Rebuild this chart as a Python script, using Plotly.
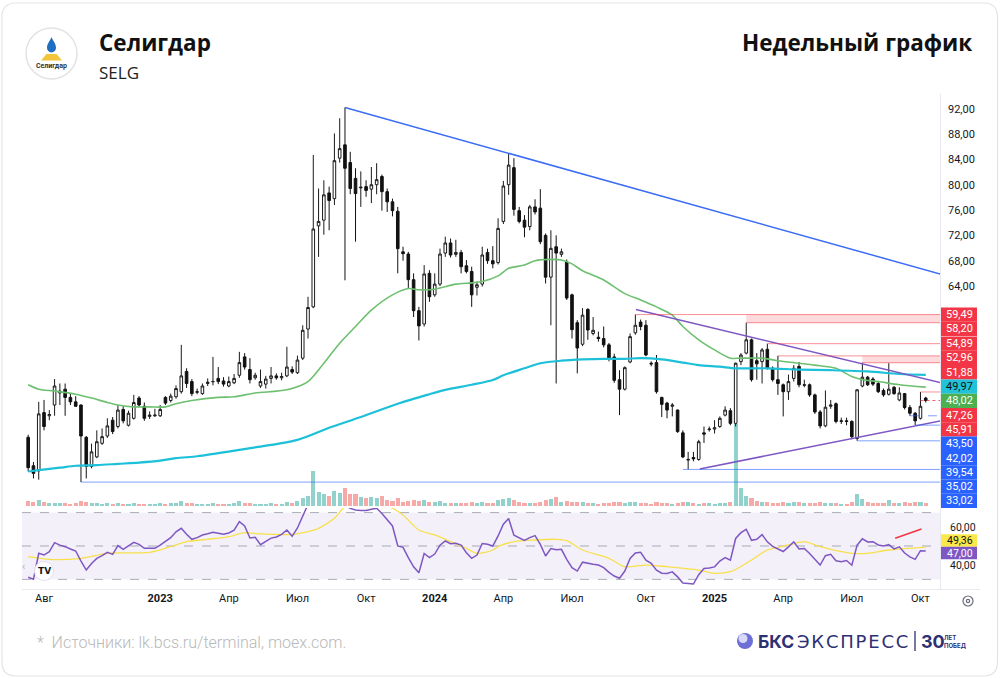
import pandas as pd
import plotly.graph_objects as go

W, H = 1000, 678

# ---------------- data (weekly bars, SELG) ----------------
ticker = "SELG"
company = "Селигдар"
start_week = "2022-07-11"

open_ = [
    40.1, 35.6, 34.8, 44.0, 43.5, 45.2, 47.1, 47.7, 46.4, 45.7,
    45.2, 40.1, 35.5, 37.0, 39.15, 40.3, 42.8, 41.8, 44.5, 42.0,
    43.1, 46.3, 45.0, 43.4, 43.5, 43.5, 46.4, 45.9, 46.5, 47.3,
    50.5, 48.9, 47.2, 47.0, 48.6, 48.9, 49.4, 49.0, 48.2, 48.7,
    49.9, 52.8, 50.8, 49.5, 48.2, 48.5, 49.4, 49.8, 49.5, 49.8,
    50.8, 50.3, 52.6, 57.2, 60.7, 73.5, 74.4, 78.7, 77.8, 84.2,
    86.3, 83.5, 81.0, 79.5, 79.7, 79.3, 80.0, 81.3, 78.9, 77.3,
    75.8, 69.4, 69.05, 65.0, 60.1, 58.0, 66.0, 62.6, 64.3, 69.2,
    70.8, 69.0, 69.3, 67.2, 66.3, 63.8, 64.3, 69.3, 68.0, 67.7,
    74.2, 80.0, 82.7, 75.9, 74.4, 73.4, 76.5, 76.3, 72.0, 65.4,
    70.2, 69.0, 67.8, 62.6, 58.2, 54.8, 60.3, 56.5, 55.9, 55.7,
    54.7, 52.8, 49.2, 47.7, 52.0, 56.6, 58.3, 57.8, 51.8, 51.9,
    46.4, 45.5, 45.0, 44.4, 40.8, 36.5, 36.9, 36.6, 40.8, 41.3,
    41.4, 41.8, 43.6, 44.3, 42.3, 52.05, 53.4, 55.5, 52.2, 52.05,
    54.0, 51.0, 49.2, 48.4, 47.3, 49.4, 51.3, 48.3, 48.4, 46.8,
    44.1, 41.9, 45.0, 45.4, 42.6, 42.7, 42.6, 39.9, 48.2, 49.6,
    49.3, 48.6, 47.5, 46.9, 48.0, 46.0, 47.0, 44.8, 43.9, 43.1,
    46.3,
]
high_ = [
    40.5, 36.2, 45.7, 46.0, 44.4, 49.3, 48.6, 48.6, 47.1, 46.6,
    45.3, 40.3, 39.1, 41.2, 41.5, 43.1, 43.3, 45.2, 45.0, 44.3,
    46.8, 46.6, 45.6, 44.2, 44.6, 45.2, 46.6, 47.0, 48.3, 54.7,
    51.0, 49.3, 47.8, 48.6, 49.4, 52.8, 51.2, 49.6, 49.7, 50.1,
    53.6, 53.4, 52.6, 50.3, 50.8, 49.8, 51.2, 50.2, 50.3, 54.4,
    51.3, 53.0, 57.8, 62.3, 84.7, 79.4, 80.7, 79.7, 88.1, 90.5,
    92.2, 85.2, 82.6, 82.1, 80.7, 82.8, 83.4, 81.6, 79.4, 77.8,
    76.5, 70.2, 69.4, 66.0, 60.7, 67.3, 66.5, 66.0, 69.9, 71.8,
    71.5, 71.3, 69.7, 68.1, 67.05, 64.7, 70.2, 69.9, 70.3, 74.7,
    80.6, 85.0, 84.2, 76.5, 75.2, 76.8, 77.7, 79.3, 72.3, 72.8,
    72.0, 69.9, 68.2, 62.8, 58.6, 60.5, 60.5, 59.1, 56.8, 57.6,
    55.0, 53.3, 50.7, 51.3, 56.5, 59.49, 58.7, 58.6, 52.1, 53.1,
    46.5, 45.7, 45.5, 44.5, 41.2, 37.8, 37.8, 39.7, 41.8, 41.8,
    42.8, 43.4, 45.0, 44.7, 51.9, 53.4, 58.2, 55.7, 53.4, 54.2,
    54.89, 51.3, 52.96, 48.6, 50.0, 51.5, 52.0, 49.2, 48.6, 47.0,
    44.4, 47.5, 46.0, 45.6, 43.2, 43.2, 42.8, 47.7, 51.88, 49.8,
    49.6, 48.9, 47.8, 51.8, 48.2, 48.0, 47.1, 45.2, 44.1, 47.26,
    46.5,
]
low_ = [
    34.7, 33.6, 33.4, 41.2, 42.8, 43.5, 45.2, 43.5, 45.2, 44.9,
    33.02, 33.6, 35.2, 36.8, 38.9, 40.0, 40.6, 41.5, 42.3, 41.8,
    42.9, 44.9, 42.7, 43.0, 43.3, 43.3, 45.2, 45.6, 46.2, 47.0,
    47.9, 46.6, 46.9, 46.8, 48.2, 48.3, 48.5, 48.1, 48.0, 48.5,
    49.5, 50.8, 48.6, 49.2, 47.9, 47.8, 48.6, 49.2, 49.1, 49.6,
    50.1, 50.1, 52.3, 55.7, 60.5, 68.6, 72.1, 72.8, 76.8, 83.5,
    64.9, 78.5, 71.0, 76.5, 78.1, 77.1, 78.5, 75.9, 75.7, 75.0,
    66.0, 68.0, 63.6, 59.1, 55.4, 57.6, 61.5, 62.3, 64.0, 68.6,
    68.5, 68.6, 66.0, 66.0, 60.7, 62.5, 63.9, 67.5, 66.8, 67.4,
    73.8, 78.4, 75.1, 73.9, 71.7, 72.8, 75.3, 70.6, 64.4, 57.8,
    48.6, 68.6, 61.8, 55.7, 50.2, 54.5, 55.5, 56.2, 55.2, 54.3,
    52.1, 48.7, 43.6, 47.5, 51.8, 56.3, 57.0, 52.9, 51.3, 47.0,
    43.3, 43.1, 43.4, 40.8, 36.8, 35.02, 36.3, 36.4, 39.2, 41.0,
    40.7, 41.6, 43.4, 42.0, 41.8, 51.5, 53.2, 48.9, 49.2, 48.6,
    50.8, 48.9, 46.8, 43.4, 46.0, 48.9, 48.0, 48.0, 46.5, 43.8,
    41.5, 41.7, 44.6, 42.3, 42.2, 42.0, 39.8, 39.54, 48.0, 48.2,
    48.2, 47.1, 46.5, 46.7, 46.8, 45.8, 44.5, 43.5, 42.02, 42.9,
    45.6,
]
close_ = [
    35.3, 34.4, 43.8, 41.8, 43.7, 48.2, 47.4, 46.4, 45.7, 45.0,
    40.3, 35.5, 37.8, 39.4, 40.2, 41.9, 41.0, 44.4, 42.7, 43.9,
    45.6, 45.2, 43.1, 43.6, 43.6, 44.5, 45.5, 46.6, 47.8, 49.8,
    48.6, 47.0, 47.3, 48.2, 48.8, 48.9, 48.9, 48.5, 48.9, 49.4,
    51.9, 51.2, 49.2, 49.9, 48.9, 49.3, 49.8, 49.5, 49.7, 51.2,
    50.4, 52.3, 57.0, 60.6, 73.0, 74.2, 78.4, 77.5, 83.8, 85.7,
    82.6, 79.4, 78.6, 79.6, 79.1, 80.0, 80.8, 78.9, 77.3, 75.9,
    69.9, 69.1, 65.0, 60.1, 57.7, 65.9, 62.3, 64.3, 69.05, 70.8,
    68.9, 69.3, 67.05, 66.3, 62.6, 64.2, 68.9, 68.0, 67.5, 73.1,
    79.8, 83.1, 76.1, 74.2, 73.3, 76.5, 75.7, 71.0, 65.4, 69.95,
    69.2, 69.4, 62.1, 57.1, 54.2, 59.4, 57.05, 57.0, 55.7, 54.7,
    52.4, 49.1, 47.7, 51.1, 56.0, 57.8, 57.6, 53.1, 51.7, 47.3,
    45.3, 44.4, 45.2, 41.0, 37.0, 36.6, 36.7, 39.4, 40.6, 41.4,
    41.6, 43.1, 44.4, 42.3, 51.8, 53.1, 55.5, 49.2, 51.7, 53.9,
    51.0, 49.2, 48.6, 47.3, 48.9, 51.0, 48.4, 48.4, 46.8, 44.1,
    41.9, 44.85, 45.2, 42.6, 42.7, 42.6, 40.2, 47.6, 49.6, 48.4,
    48.5, 47.3, 46.8, 47.7, 47.0, 47.1, 44.8, 43.9, 42.7, 45.0,
    45.91,
]
# relative weekly volume
volume_ = [
    5, 4, 6, 4, 3, 3, 3, 3, 2, 3,
    5, 4, 3, 3, 2, 3, 2, 3, 2, 2,
    3, 2, 2, 2, 2, 3, 2, 3, 3, 5,
    3, 3, 2, 2, 2, 3, 2, 2, 2, 3,
    5, 3, 3, 2, 2, 2, 3, 2, 2, 4,
    3, 5, 8, 10, 35, 14, 12, 10, 15, 13,
    18, 12, 12, 9, 8, 9, 8, 10, 6, 5,
    8, 4, 5, 6, 5, 6, 4, 4, 5, 3,
    3, 3, 3, 3, 4, 3, 4, 3, 3, 6,
    7, 8, 6, 4, 3, 3, 3, 4, 6, 7,
    9, 4, 5, 4, 4, 4, 3, 3, 2, 3,
    3, 4, 4, 3, 4, 4, 3, 3, 2, 4,
    3, 3, 2, 3, 4, 4, 3, 2, 3, 3,
    2, 3, 3, 4, 82, 18, 10, 8, 5, 4,
    4, 3, 3, 4, 3, 4, 4, 3, 3, 3,
    4, 3, 3, 3, 2, 2, 4, 12, 7, 4,
    3, 3, 3, 6, 3, 3, 4, 3, 4, 4,
    3,
]
rsi_ = [
    31.3, 30.1, 45.6, 44.6, 46.6, 52.0, 50.5, 49.6, 48.2, 47.0,
    41.0, 35.6, 39.5, 42.6, 44.2, 46.2, 45.0, 50.2, 48.0, 50.0,
    52.2, 51.0, 48.6, 48.6, 48.6, 50.5, 52.8, 55.0, 58.5, 60.6,
    57.0, 54.0, 55.0, 56.6, 57.3, 58.2, 57.6, 57.0, 57.8, 59.5,
    64.6, 62.0, 54.8, 55.2, 50.8, 52.8, 54.7, 55.4, 57.0, 59.6,
    55.8, 60.8, 68.0, 74.0, 82.0, 80.0, 83.0, 81.0, 86.0, 87.0,
    74.5, 72.5, 71.5, 71.3, 71.2, 72.0, 72.6, 69.5, 66.0, 62.0,
    50.0, 49.2, 43.0, 37.5, 34.0, 45.5, 43.0, 45.2, 50.5, 53.0,
    51.4, 51.6, 50.5, 46.0, 42.6, 44.6, 51.5, 51.0, 50.0, 56.0,
    63.0, 66.5, 56.5, 55.0, 53.3, 55.0, 56.2, 51.0, 44.0, 48.5,
    47.8, 48.0, 42.0, 37.0, 35.0, 40.3, 39.5, 39.1, 38.6, 37.0,
    34.2, 32.0, 30.7, 35.0, 42.5, 45.8, 46.2, 41.5, 39.6, 35.5,
    33.7, 33.6, 34.5, 31.5, 27.8, 27.5, 27.2, 32.8, 36.5, 36.8,
    37.5, 41.0, 43.0, 41.5, 54.5, 58.0, 60.0, 53.4, 54.0, 56.8,
    52.5, 49.8, 48.2, 46.7, 49.5, 52.5, 48.2, 48.5, 45.5, 42.0,
    38.6, 44.2, 45.0, 41.2, 40.6, 41.3, 38.5, 50.5, 54.3, 52.4,
    52.6, 50.6, 50.0, 50.8, 48.3, 49.5, 45.8, 43.5, 42.0, 47.2,
    47.0,
]

# moving averages (bar number -> value)
green_ma_bar = [0, 2, 5, 9, 12, 15, 17, 20, 23, 26, 28, 31, 36, 39, 43, 49, 53, 56, 59, 62,
                65, 69, 72, 74, 77, 81, 84, 86, 89, 91, 94, 96, 99, 101, 103, 105, 109, 113, 116, 119,
                122, 124, 127, 130, 133, 135, 139, 142, 146, 149, 153, 156, 158, 161, 165, 170]
green_ma_val = [48.4, 47.7, 47.4, 46.9, 46.3, 45.6, 45.2, 44.9, 44.9, 44.9, 45.4, 45.9, 46.4, 46.5, 47.1, 47.6, 48.9, 51.8, 54.95, 57.6,
                60.2, 62.6, 63.6, 63.4, 63.5, 64.3, 64.5, 64.7, 65.6, 66.8, 67.3, 68.0, 68.2, 68.1, 67.5, 66.4, 64.95, 62.8, 61.8, 60.7,
                59.4, 57.6, 55.5, 53.9, 52.6, 52.6, 52.6, 52.2, 51.8, 51.5, 51.0, 49.7, 49.2, 48.9, 48.4, 48.02]
cyan_ma_bar = [0, 2, 6, 9, 13, 17, 21, 25, 28, 32, 36, 40, 43, 51, 57, 63, 70, 76, 79, 84,
               88, 90, 94, 97, 101, 105, 109, 113, 116, 120, 124, 127, 131, 134, 140, 146, 152, 159, 165, 170]
cyan_ma_val = [34.7, 34.9, 35.3, 35.6, 35.7, 35.9, 36.1, 36.4, 36.8, 37.1, 37.6, 38.1, 38.5, 39.7, 41.6, 43.3, 45.4, 46.9, 47.6, 48.4,
               49.15, 49.9, 51.0, 51.8, 52.2, 52.4, 52.5, 52.5, 52.6, 52.4, 51.9, 51.5, 51.25, 51.0, 51.0, 50.8, 50.7, 50.5, 50.1, 49.97]
rsi_ma_bar = [0, 4, 10, 15, 23, 27, 30, 34, 38, 41, 44, 50, 53, 55, 58, 60, 63, 66, 69, 71,
              74, 77, 80, 83, 85, 88, 89, 92, 96, 100, 102, 105, 110, 113, 117, 121, 127, 130, 133, 137,
              140, 144, 147, 150, 156, 159, 163, 170]
rsi_ma_val = [43.6, 42.0, 42.6, 45.6, 46.2, 49.6, 52.6, 54.0, 55.6, 58.0, 57.2, 57.0, 58.6, 60.6, 66.6, 73.5, 77.0, 76.5, 72.6, 68.6,
              59.6, 56.6, 52.6, 48.6, 45.6, 47.6, 49.6, 52.6, 53.6, 54.0, 53.2, 47.6, 42.6, 37.6, 38.6, 37.6, 35.6, 33.6, 34.6, 41.6,
              47.6, 50.6, 52.6, 49.6, 45.6, 45.6, 47.6, 49.36]

# drawn trend lines (bar number, price)
trend_blue_bar = [60, 172.9]
trend_blue_price = [92.2, 65.85]
trend_top_bar = [115.1, 172.9]
trend_top_price = [60.3, 48.7]
trend_low_bar = [127.2, 172.9]
trend_low_price = [35.1, 42.7]
rsi_div_bar = [164.2, 169.2]
rsi_div_val = [54.6, 60.2]

# horizontal levels
res_levels = [59.49, 58.20, 54.89, 52.96, 51.88, 47.26]
res_start = [115, 136, 140, 142, 158, 169]
res_zones = [(58.20, 59.49, 136), (51.88, 52.96, 158)]
sup_levels = [43.50, 42.02, 39.54, 35.02, 33.02]
sup_start = [167, 168, 157, 124, 10]
sup_dashed = [True, False, False, False, False]
last_price_start = 169

price_ticks = [64, 68, 72, 76, 80, 84, 88, 92]
rsi_ticks = [40, 60]
rsi_bands = [30, 50, 70]

tick_dates = ["2022-08-01", "2023-01-02", "2023-04-03", "2023-07-03", "2023-10-02", "2024-01-01",
              "2024-04-01", "2024-07-01", "2024-10-07", "2025-01-06", "2025-04-07", "2025-07-07", "2025-10-06"]
tick_text = ["Авг", "<b>2023</b>", "Апр", "Июл", "Окт", "<b>2024</b>", "Апр", "Июл", "Окт",
             "<b>2025</b>", "Апр", "Июл", "Окт"]

n = len(close_)
assert len(open_) == n and len(high_) == n and len(low_) == n and len(volume_) == n and len(rsi_) == n
assert len(green_ma_bar) == len(green_ma_val) and len(cyan_ma_bar) == len(cyan_ma_val) and len(rsi_ma_bar) == len(rsi_ma_val)

# ---------------- geometry ----------------
weeks = pd.date_range(start_week, periods=n, freq="7D")


def wk(k):
    return str(weeks[0] + pd.Timedelta(days=7 * k))


X0, X1 = wk(-1.17), wk(172.7)
PX_L, PX_R = 22, 940
MAIN_TOP, MAIN_BOT = 98, 506
RSI_TOP, RSI_BOT = 508, 590
PMAX, PMIN = 93.70, 29.245
RMAX, RMIN = 72.75, 23.65


def fx(p):
    return p / W


def fy(p):
    return 1 - p / H


def price_px(v):
    return MAIN_TOP + (PMAX - v) / (PMAX - PMIN) * (MAIN_BOT - MAIN_TOP)


def rsi_px(v):
    return RSI_TOP + (RMAX - v) / (RMAX - RMIN) * (RSI_BOT - RSI_TOP)


def fmt(v):
    return f"{v:.2f}".replace(".", ",")


FONT = "Roboto"
RED = "#f23645"
BLUE = "#2962ff"
CYAN = "#22c3d9"
GREEN = "#4caf50"
PURPLE = "#7e57c2"
NAVY = "#2e3075"

fig = go.Figure()

vol_colors = ["rgba(38,166,154,0.5)" if c >= o else "rgba(239,83,80,0.5)" for o, c in zip(open_, close_)]
fig.add_trace(go.Bar(x=weeks, y=volume_, marker=dict(color=vol_colors, line=dict(width=0)),
                     width=5.4 * 24 * 3600 * 1000, xaxis="x", yaxis="y", hoverinfo="skip"))

fig.add_trace(go.Candlestick(
    x=weeks, open=open_, high=high_, low=low_, close=close_, xaxis="x", yaxis="y3",
    increasing=dict(fillcolor="#ffffff", line=dict(color="#1a1a1a", width=1)),
    decreasing=dict(fillcolor="#111111", line=dict(color="#111111", width=1)),
    whiskerwidth=0, hoverinfo="skip"))

fig.add_trace(go.Scatter(x=[wk(k) for k in green_ma_bar], y=green_ma_val, mode="lines",
                         line=dict(color="#6cc06f", width=1.6, shape="spline", smoothing=0.8),
                         xaxis="x", yaxis="y3", hoverinfo="skip"))
fig.add_trace(go.Scatter(x=[wk(k) for k in cyan_ma_bar], y=cyan_ma_val, mode="lines",
                         line=dict(color="#1cc0d8", width=2.2, shape="spline", smoothing=0.8),
                         xaxis="x", yaxis="y3", hoverinfo="skip"))
for bars, prices, col in [(trend_blue_bar, trend_blue_price, "#3b6cf6"),
                          (trend_top_bar, trend_top_price, PURPLE),
                          (trend_low_bar, trend_low_price, PURPLE)]:
    fig.add_trace(go.Scatter(x=[wk(k) for k in bars], y=prices, mode="lines",
                             line=dict(color=col, width=1.5), xaxis="x", yaxis="y3", hoverinfo="skip"))

# RSI pane
fig.add_trace(go.Scatter(x=[wk(k) for k in rsi_ma_bar], y=rsi_ma_val, mode="lines",
                         line=dict(color="#f7e04b", width=1.3, shape="spline", smoothing=0.8),
                         xaxis="x2", yaxis="y2", hoverinfo="skip"))
fig.add_trace(go.Scatter(x=weeks, y=rsi_, mode="lines", line=dict(color=PURPLE, width=1.5),
                         xaxis="x2", yaxis="y2", hoverinfo="skip"))
fig.add_trace(go.Scatter(x=[wk(k) for k in rsi_div_bar], y=rsi_div_val, mode="lines",
                         line=dict(color=RED, width=1.5), xaxis="x2", yaxis="y2", hoverinfo="skip"))

shapes = []
annotations = []

# RSI background and bands
shapes.append(dict(type="rect", xref="x2 domain", yref="y2", x0=0, x1=1, y0=min(rsi_bands), y1=max(rsi_bands),
                   fillcolor="rgba(126,87,194,0.09)", line=dict(width=0), layer="below"))
for b in rsi_bands:
    shapes.append(dict(type="line", xref="x2 domain", yref="y2", x0=0, x1=1, y0=b, y1=b,
                       line=dict(color="rgba(120,123,134,0.6)", width=1, dash="dash"), layer="below"))

# levels
for lo, hi, k0 in res_zones:
    shapes.append(dict(type="rect", xref="x", yref="y3", x0=wk(k0), x1=X1, y0=lo, y1=hi,
                       fillcolor="rgba(242,54,69,0.18)", line=dict(width=0), layer="above"))
for v, k0 in zip(res_levels, res_start):
    shapes.append(dict(type="line", xref="x", yref="y3", x0=wk(k0), x1=X1, y0=v, y1=v,
                       line=dict(color="rgba(242,54,69,0.55)", width=1), layer="above"))
shapes.append(dict(type="line", xref="x", yref="y3", x0=wk(last_price_start), x1=X1, y0=close_[-1], y1=close_[-1],
                   line=dict(color="rgba(242,54,69,0.8)", width=1, dash="dot"), layer="above"))
for v, k0, d in zip(sup_levels, sup_start, sup_dashed):
    shapes.append(dict(type="line", xref="x", yref="y3", x0=wk(k0), x1=X1, y0=v, y1=v,
                       line=dict(color="rgba(41,98,255,0.6)", width=1, dash="dash" if d else "solid"), layer="above"))

# frame lines
shapes.append(dict(type="line", xref="paper", yref="paper", x0=fx(940.5), x1=fx(940.5), y0=fy(MAIN_TOP - 4), y1=fy(RSI_BOT),
                   line=dict(color="#e6e9ef", width=1)))
shapes.append(dict(type="line", xref="paper", yref="paper", x0=fx(PX_L), x1=fx(980), y0=fy(RSI_BOT - 0.5), y1=fy(RSI_BOT - 0.5),
                   line=dict(color="#e6e9ef", width=1)))

# price tags (stacked)
tags = [(v, RED, "#fff") for v in res_levels] + [(cyan_ma_val[-1], CYAN, "#111"), (green_ma_val[-1], GREEN, "#fff"),
                                                    (close_[-1], RED, "#fff")] + [(v, BLUE, "#fff") for v in sup_levels]
tags.sort(key=lambda t: -t[0])
TAG_H = 14.3
prev = -1e9
for v, bg, fg in tags:
    c = max(price_px(v), prev + TAG_H)
    prev = c
    shapes.append(dict(type="rect", xref="paper", yref="paper", x0=fx(941), x1=fx(977),
                       y0=fy(c + TAG_H / 2), y1=fy(c - TAG_H / 2), fillcolor=bg, line=dict(width=0), layer="above"))
    annotations.append(dict(xref="paper", yref="paper", x=fx(959.5), y=fy(c), text=fmt(v), showarrow=False,
                            font=dict(family=FONT, size=11, color=fg), xanchor="center", yanchor="middle"))

# RSI scale labels, nudged clear of the value tags
for v, dy in zip(rsi_ticks, [3.0, -2.0]):
    annotations.append(dict(xref="paper", yref="paper", x=fx(947.5), y=fy(rsi_px(v) + dy), text=fmt(v), showarrow=False,
                            font=dict(family=FONT, size=10.5, color="#131722"), xanchor="left", yanchor="middle"))

# RSI tags (stacked upward from the lower one)
RT_H = 12.5
r_low = rsi_px(rsi_[-1]) + 2.0
r_up = min(rsi_px(rsi_ma_val[-1]), r_low - RT_H)
for c, v, bg, fg in [(r_up, rsi_ma_val[-1], "#fbe84a", "#111"), (r_low, rsi_[-1], PURPLE, "#fff")]:
    shapes.append(dict(type="rect", xref="paper", yref="paper", x0=fx(941), x1=fx(977),
                       y0=fy(c + RT_H / 2), y1=fy(c - RT_H / 2), fillcolor=bg, line=dict(width=0), layer="above"))
    annotations.append(dict(xref="paper", yref="paper", x=fx(959.5), y=fy(c), text=fmt(v), showarrow=False,
                            font=dict(family=FONT, size=10.5, color=fg), xanchor="center", yanchor="middle"))

# card border


def rounded(x0, y0, x1, y1, r):
    rx, ry = r / W, r / H
    a, b, c, d = fx(x0), fy(y0), fx(x1), fy(y1)
    return (f"M {a + rx},{b} L {c - rx},{b} Q {c},{b} {c},{b - ry} L {c},{d + ry} Q {c},{d} {c - rx},{d} "
            f"L {a + rx},{d} Q {a},{d} {a},{d + ry} L {a},{b - ry} Q {a},{b} {a + rx},{b} Z")


shapes.append(dict(type="path", xref="paper", yref="paper", path=rounded(2, 3, 997.5, 676, 14),
                   line=dict(color="#e4e4e4", width=1.2), layer="below"))

# header logo


def ppath(pts):
    s = ""
    for cmd, coords in pts:
        s += cmd + " " + " ".join(f"{fx(x)},{fy(y)}" for x, y in coords) + " "
    return s + "Z"


shapes.append(dict(type="circle", xref="paper", yref="paper", x0=fx(26), x1=fx(77), y0=fy(79), y1=fy(28),
                   fillcolor="#ffffff", line=dict(color="#e3e3e3", width=1.5)))
drop = ppath([("M", [(51.5, 37)]),
              ("C", [(52.6, 40.5), (56, 43.5), (56, 47.8)]),
              ("C", [(56, 50.6), (54, 52.4), (51.5, 52.4)]),
              ("C", [(49, 52.4), (47, 50.6), (47, 47.8)]),
              ("C", [(47, 43.5), (50.4, 40.5), (51.5, 37)])])
shapes.append(dict(type="path", xref="paper", yref="paper", path=drop, fillcolor="#1f6fc0", line=dict(width=0)))
trap = ppath([("M", [(46.5, 54)]), ("L", [(56.5, 54)]), ("L", [(62, 60.5)]), ("L", [(41, 60.5)])])
shapes.append(dict(type="path", xref="paper", yref="paper", path=trap, fillcolor="#f2c53d", line=dict(width=0)))
annotations.append(dict(xref="paper", yref="paper", x=fx(51.5), y=fy(65.5), text=f"<b>{company}</b>", showarrow=False,
                        font=dict(family=FONT, size=7, color="#333"), xanchor="center", yanchor="middle"))

# titles
annotations.append(dict(xref="paper", yref="paper", x=fx(97), y=fy(42.5), text=f"<b>{company}</b>", showarrow=False,
                        font=dict(family="Open Sans", size=22.5, color="#111"), xanchor="left", yanchor="middle"))
annotations.append(dict(xref="paper", yref="paper", x=fx(97), y=fy(72.5), text=ticker,
                        showarrow=False, font=dict(family="Open Sans", size=17, color="#222"),
                        xanchor="left", yanchor="middle"))
annotations.append(dict(xref="paper", yref="paper", x=fx(974), y=fy(42.5), text="<b>Недельный график</b>",
                        showarrow=False, font=dict(family="Open Sans", size=22.5, color="#111"),
                        xanchor="right", yanchor="middle"))

# TradingView badge & misc icons
shapes.append(dict(type="circle", xref="paper", yref="paper", x0=fx(34.5), x1=fx(53.5), y0=fy(580.5), y1=fy(561.5),
                   fillcolor="#ffffff", line=dict(color="#e0e3eb", width=1)))
annotations.append(dict(xref="paper", yref="paper", x=fx(44), y=fy(571), text="<b>TV</b>", showarrow=False,
                        font=dict(family="DejaVu Sans", size=9, color="#131722"), xanchor="center", yanchor="middle"))
annotations.append(dict(xref="paper", yref="paper", x=fx(23), y=fy(566.5), text="‹", showarrow=False,
                        font=dict(family=FONT, size=11, color="#b0b3b8"), xanchor="center", yanchor="middle"))
shapes.append(dict(type="circle", xref="paper", yref="paper", x0=fx(963), x1=fx(973), y0=fy(606), y1=fy(596),
                   line=dict(color="#6a6d78", width=1.2)))
shapes.append(dict(type="circle", xref="paper", yref="paper", x0=fx(966.3), x1=fx(969.7), y0=fy(602.7), y1=fy(599.3),
                   line=dict(color="#6a6d78", width=1.2)))

# footer
annotations.append(dict(xref="paper", yref="paper", x=fx(35), y=fy(642), text="*  Источники: lk.bcs.ru/terminal, moex.com.",
                        showarrow=False, font=dict(family=FONT, size=16, color="#b8b8b8", weight=300),
                        xanchor="left", yanchor="middle"))
shapes.append(dict(type="circle", xref="paper", yref="paper", x0=fx(737), x1=fx(753), y0=fy(649), y1=fy(633),
                   fillcolor="#6d6fd6", line=dict(width=0)))
shapes.append(dict(type="circle", xref="paper", yref="paper", x0=fx(738.5), x1=fx(747.5), y0=fy(643), y1=fy(634),
                   fillcolor="rgba(235,236,255,0.85)", line=dict(width=0)))
annotations.append(dict(xref="paper", yref="paper", x=fx(755.5), y=fy(641.5), text="<b>БКС</b>", showarrow=False,
                        font=dict(family="Inter", size=17.5, color=NAVY), xanchor="left", yanchor="middle"))
annotations.append(dict(xref="paper", yref="paper", x=fx(795), y=fy(641.5), text="\u200a".join("ЭКСПРЕСС"),
                        showarrow=False, font=dict(family="DejaVu Sans", size=18, color=NAVY),
                        xanchor="left", yanchor="middle"))
shapes.append(dict(type="line", xref="paper", yref="paper", x0=fx(915), x1=fx(915), y0=fy(651), y1=fy(631),
                   line=dict(color=NAVY, width=1.3)))
annotations.append(dict(xref="paper", yref="paper", x=fx(918.5), y=fy(641.5), text="<b>30</b>", showarrow=False,
                        font=dict(family="Inter", size=18, color=NAVY), xanchor="left", yanchor="middle"))
annotations.append(dict(xref="paper", yref="paper", x=fx(941.5), y=fy(637.5), text="<b>ЛЕТ</b>", showarrow=False,
                        font=dict(family="Inter", size=6, color=NAVY), xanchor="left", yanchor="middle"))
annotations.append(dict(xref="paper", yref="paper", x=fx(941.5), y=fy(645), text="<b>ПОБЕД</b>", showarrow=False,
                        font=dict(family="Inter", size=6, color=NAVY), xanchor="left", yanchor="middle"))

main_dom = [fy(MAIN_BOT), fy(MAIN_TOP)]
rsi_dom = [fy(RSI_BOT), fy(RSI_TOP)]
x_dom = [fx(PX_L), fx(PX_R)]

fig.update_layout(
    width=W, height=H, margin=dict(l=0, r=0, t=0, b=0),
    paper_bgcolor="#ffffff", plot_bgcolor="#ffffff", showlegend=False,
    font=dict(family=FONT, color="#131722"),
    xaxis=dict(domain=x_dom, range=[X0, X1], anchor="y", showticklabels=False, showgrid=False, zeroline=False,
               rangeslider=dict(visible=False), showline=False, ticks=""),
    yaxis=dict(domain=main_dom, range=[0, MAIN_BOT - MAIN_TOP], visible=False, fixedrange=True),
    yaxis3=dict(overlaying="y", anchor="x", side="right", range=[PMIN, PMAX], showgrid=False, zeroline=False,
                tickvals=price_ticks, ticktext=[fmt(v) for v in price_ticks], ticks="",
                tickfont=dict(family=FONT, size=11, color="#131722"), ticklabelstandoff=7, showline=False),
    xaxis2=dict(domain=x_dom, range=[X0, X1], anchor="y2", matches="x", showgrid=False, zeroline=False,
                tickvals=tick_dates, ticktext=tick_text, ticks="", tickfont=dict(family=FONT, size=11, color="#131722"),
                showline=False),
    yaxis2=dict(domain=rsi_dom, range=[RMIN, RMAX], anchor="x2", side="right", showgrid=False, zeroline=False,
                showticklabels=False, ticks=""),
    shapes=shapes, annotations=annotations, bargap=0,
)

fig.write_html("out.html")
